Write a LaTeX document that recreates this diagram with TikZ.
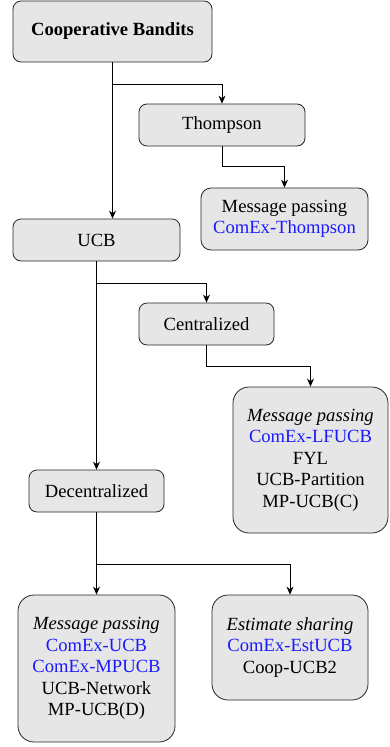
\documentclass[tikz,border=0pt]{standalone}
\usepackage{fontspec}
\setmainfont{Liberation Serif}
\usetikzlibrary{arrows.meta,calc}
\definecolor{boxfill}{HTML}{E6E6E6}
\definecolor{linkblue}{HTML}{1A1AFF}
\tikzset{
  box/.style={draw=black!85, fill=boxfill, line width=0.8pt, rounded corners=8pt,
    inner sep=0pt, align=center, font=\fontsize{18.6}{21.5}\selectfont},
  bigbox/.style={box, rounded corners=16pt},
  arr/.style={draw=black, line width=0.8pt, -{Stealth[length=8pt,width=7pt]}},
  lnk/.style={text=linkblue}
}
\newcommand{\bl}[1]{\textcolor{linkblue}{#1}}
\begin{document}
\begin{tikzpicture}[x=1pt,y=-1pt]
\useasboundingbox (0,0) rectangle (390,747);
\node[box, minimum width=199pt, minimum height=61pt] (root) at (112.5,31.5) {\bfseries Cooperative Bandits};
\node[box, minimum width=166pt, minimum height=42pt] (thom) at (222,125) {Thompson};
\node[box, rounded corners=10pt, minimum width=167pt, minimum height=62pt] (msg1) at (284.5,219) {Message passing\\\bl{ComEx-Thompson}};
\node[box, minimum width=167pt, minimum height=42pt] (ucb) at (96.5,240) {UCB};
\node[box, minimum width=135pt, minimum height=42pt] (cent) at (206.5,324) {Centralized};
\node[bigbox, minimum width=155pt, minimum height=146pt] (bigc) at (310.5,460) {\textit{Message passing}\\\bl{ComEx-LFUCB}\\FYL\\UCB-Partition\\MP-UCB(C)};
\node[box, minimum width=135pt, minimum height=42pt] (dec) at (96.5,491) {Decentralized};
\node[bigbox, minimum width=157pt, minimum height=147pt] (bl) at (96.5,668.5) {\textit{Message passing}\\\bl{ComEx-UCB}\\\bl{ComEx-MPUCB}\\UCB-Network\\MP-UCB(D)};
\node[bigbox, minimum width=156pt, minimum height=105pt] (br) at (290,647.5) {\textit{Estimate sharing}\\\bl{ComEx-EstUCB}\\Coop-UCB2};
% connectors
\coordinate (j1) at ($(root.south)+(0,22)$);
\draw[arr] (root.south) -- (root.south |- ucb.north);
\draw[arr] (j1) -| (thom.north);
\draw[arr] (thom.south) -- ++(0,20) -| (msg1.north);
\coordinate (j2) at ($(ucb.south)+(0,22)$);
\draw[arr] (ucb.south) -- (dec.north);
\draw[arr] (j2) -| (cent.north);
\draw[arr] (cent.south) -- ++(0,21) -| (bigc.north);
\coordinate (j3) at ($(dec.south)+(0,52)$);
\draw[arr] (dec.south) -- (bl.north);
\draw[arr] (j3) -| (br.north);
\end{tikzpicture}
\end{document}
